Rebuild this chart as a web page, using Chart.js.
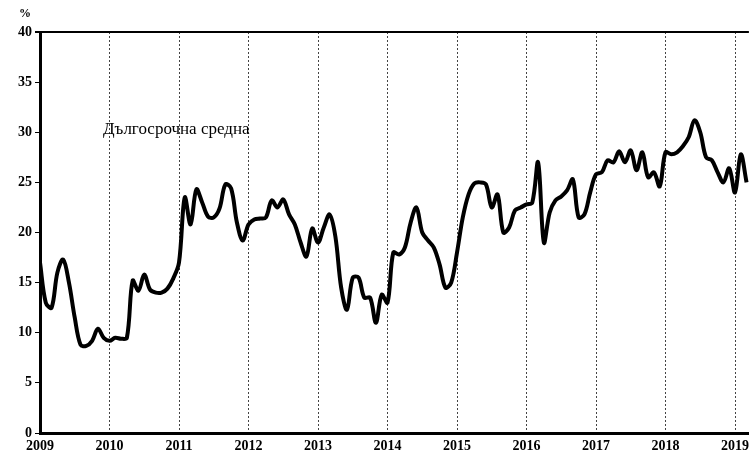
<!DOCTYPE html>
<html lang="bg">
<head>
<meta charset="utf-8">
<title>Дългосрочна средна</title>
<script src="https://cdn.jsdelivr.net/npm/chart.js@4"></script>
<style>
  html, body { margin: 0; padding: 0; background: #fff; }
  #wrap { position: relative; width: 754px; height: 461px; overflow: hidden; }
  #chart { position: absolute; left: 0; top: 0; }
  .note { position: absolute; font-family: "Liberation Serif", "DejaVu Serif", serif; color: #000; white-space: nowrap; }
  #unit { left: 19px; top: 6px; font-size: 12px; font-weight: bold; }
  #avgLabel { left: 103px; top: 119px; font-size: 17px; }
</style>
</head>
<body>
<div id="wrap">
  <canvas id="chart" width="754" height="461"></canvas>
  <div class="note" id="unit">%</div>
  <div class="note" id="avgLabel">Дългосрочна средна</div>
</div>
<script>
// monthly values, from January 2009 to March 2019 (%)
var startYear = 2009
var values = [
  17, 13, 12.5, 16, 17.3, 15, 11.5, 8.8, 8.7, 9.2, 10.4, 9.5,
  9.2, 9.5, 9.4, 9.5, 15.2, 14.2, 15.8, 14.3, 14, 14, 14.4, 15.4,
  17, 23.5, 20.8, 24.3, 23, 21.6, 21.5, 22.4, 24.8, 24.4, 21, 19.2,
  20.8, 21.3, 21.4, 21.5, 23.2, 22.5, 23.3, 21.8, 20.8, 19, 17.6, 20.4,
  19, 20.5, 21.8, 19.6, 14.5, 12.3, 15.5, 15.5, 13.5, 13.5, 11, 13.8,
  13, 18, 17.8, 18.5, 21, 22.5, 20, 19.2, 18.5, 16.8, 14.5, 15,
  18, 21.5, 23.8, 24.9, 25, 24.8, 22.5, 23.8, 20, 20.5, 22.2, 22.5,
  22.8, 23, 27, 19, 22, 23.2, 23.6, 24.2, 25.3, 21.5, 21.8, 24,
  25.8, 26, 27.2, 27, 28.1, 27, 28.2, 26.2, 28, 25.5, 26, 24.6,
  28, 27.8, 28, 28.6, 29.5, 31.2, 30, 27.5, 27.2, 26, 25, 26.4,
  24, 27.8, 25
]
var yTicks = [0, 5, 10, 15, 20, 25, 30, 35, 40]
var yearTicks = [2009, 2010, 2011, 2012, 2013, 2014, 2015, 2016, 2017, 2018, 2019]

var points = values.map(function (v, i) { return { x: startYear + i / 12, y: v } })

var serif = '"Liberation Serif", "DejaVu Serif", serif'

new Chart(document.getElementById('chart'), {
  type: 'line',
  data: {
    datasets: [{
      data: points,
      borderColor: '#000',
      borderWidth: 4,
      pointRadius: 0,
      tension: 0.35,
      fill: false
    }]
  },
  options: {
    responsive: false,
    animation: false,
    layout: { padding: { top: 32, right: 0, left: 0, bottom: 0 } },
    plugins: { legend: { display: false }, tooltip: { enabled: false } },
    scales: {
      x: {
        type: 'linear',
        min: 2009,
        max: 2019.2,
        afterBuildTicks: function (axis) {
          axis.ticks = yearTicks.map(function (y) { return { value: y } })
        },
        afterFit: function (axis) { axis.height = 28 },
        border: { display: true, color: '#000', width: 3, dash: [2, 2] },
        grid: {
          color: '#444',
          lineWidth: 1,
          drawTicks: false
        },
        ticks: {
          color: '#000',
          padding: 5,
          maxRotation: 0,
          autoSkip: false,
          font: { family: serif, size: 14, weight: 'bold' },
          callback: function (v) { return String(v) }
        }
      },
      y: {
        min: 0,
        max: 40,
        afterBuildTicks: function (axis) {
          axis.ticks = yTicks.map(function (v) { return { value: v } })
        },
        afterFit: function (axis) { axis.width = 40 },
        border: { display: true, color: '#000', width: 3 },
        grid: {
          color: function (c) { return c.tick && c.tick.value === 40 ? '#000' : 'rgba(0,0,0,0)' },
          lineWidth: function (c) { return c.tick && c.tick.value === 40 ? 2 : 1 },
          tickColor: '#000',
          tickLength: 5,
          drawTicks: true
        },
        ticks: {
          color: '#000',
          padding: 3,
          font: { family: serif, size: 14, weight: 'bold' }
        }
      }
    }
  }
})
</script>
</body>
</html>
